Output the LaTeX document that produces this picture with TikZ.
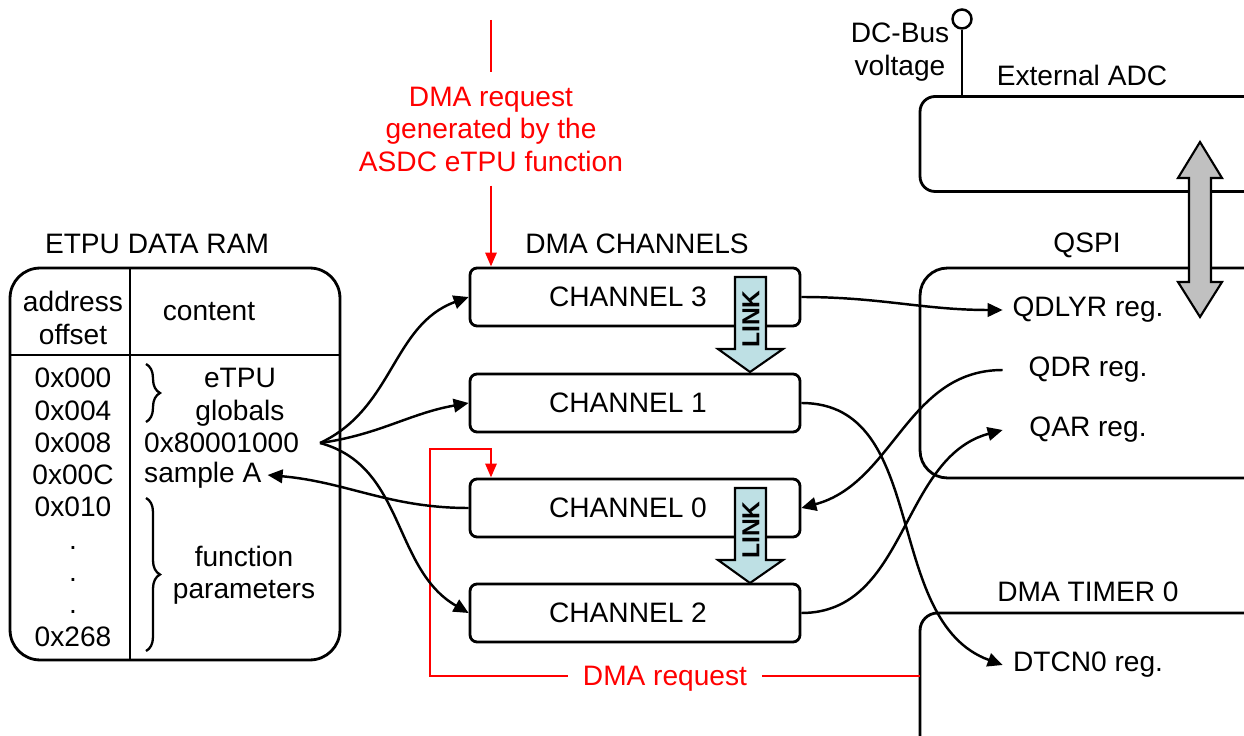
\documentclass[tikz,border=0pt]{standalone}
\usepackage{fontspec}
\setmainfont{Liberation Sans}
\usetikzlibrary{arrows.meta,decorations.pathreplacing}

\definecolor{linkblue}{RGB}{190,224,228}
\definecolor{busgray}{RGB}{192,192,192}

\tikzset{
  box/.style={draw, line width=1.6pt},
  chbox/.style={box, rounded corners=4pt, minimum width=6.6cm, minimum height=1.16cm},
  regtxt/.style={minimum width=3.4cm, inner sep=0pt},
  conn/.style={line width=1.4pt, -{Triangle[length=0.3cm,width=0.27cm]}},
  req/.style={draw=red, line width=1.6pt},
  reqtip/.style={req, -{Triangle[length=0.28cm,width=0.22cm]}},
  brc/.style={decorate, decoration={brace, amplitude=0.28cm}, line width=1.3pt},
}

\begin{document}
\begin{tikzpicture}[x=0.02cm, y=-0.02cm, font=\fontsize{16}{18.5}\selectfont]
\useasboundingbox (0,0) rectangle (1244,736);

% eTPU data RAM
\node (ramttl) at (157,244) {ETPU DATA RAM};
\node[box, rounded corners=0.6cm, minimum width=6.6cm, minimum height=7.84cm] (ram) at (175,464) {};
\draw[line width=1.6pt] (130,268) -- (130,660);
\draw[line width=1.6pt] (10,355) -- (340,355);
\node[align=center] (addr) at (73,318) {address\\offset};
\node (cont) at (209,312) {content};
\foreach \a/\y in {0x000/378,0x004/411,0x008/443,0x00C/475,0x010/507,0x268/637}
  \node (adr\y) at (73,\y) {\a};
\foreach \y in {548,580,612}
  \node (dot\y) at (73,\y) {.};
\draw[brc] (146,364) -- (146,422);
\node[align=center] (glob) at (240,397) {eTPU\\globals};
\node[anchor=west] (ptrval) at (138,443) {0x80001000};
\node[anchor=west] (samp) at (138,475) {sample A};
\draw[brc] (146,498) -- (146,651);
\node[align=center] (fpar) at (244,575) {function\\parameters};

% DMA channels
\node (chttl) at (637,244) {DMA CHANNELS};
\node[chbox] (ch3) at (635,297) {CHANNEL 3\kern0.28cm};
\node[chbox] (ch1) at (635,403) {CHANNEL 1\kern0.28cm};
\node[chbox] (ch0) at (635,508) {CHANNEL 0\kern0.28cm};
\node[chbox] (ch2) at (635,613) {CHANNEL 2\kern0.28cm};
\foreach \t/\n in {277/a,488/b} {
  \filldraw[fill=linkblue, line width=1.2pt] (735,\t) -- (766,\t) -- (766,\t+72) -- (783,\t+72)
    -- (750,\t+95) -- (718,\t+72) -- (735,\t+72) -- cycle;
  \node[rotate=90, font=\fontsize{14}{16}\selectfont\bfseries] (link\n) at (751,\t+42) {LINK};
}

% request from the eTPU
\coordinate (reqtop) at (491,20);
\node[red, align=center, inner ysep=8pt] (reqtxt) at (491,129) {DMA request\\generated by the\\ASDC eTPU function};
\draw[req] (reqtop) -- (reqtxt.north);
\draw[reqtip] (reqtxt.south) -- (ch3.north -| reqtop);

% external ADC
\node[box, rounded corners=0.3cm, minimum width=7.2cm, minimum height=1.9cm] (adc) at (1100,144) {};
\node (adcttl) at (1082,75) {External ADC};
\node[draw, circle, line width=1.4pt, minimum size=0.38cm, inner sep=0pt] (pin) at (962,19) {};
\draw[line width=1.6pt] (pin.south) -- (pin.south |- adc.north);
\node[align=center] (dcbus) at (900,52) {DC-Bus\\voltage};

% QSPI
\node (qspittl) at (1087,245) {QSPI};
\node[box, rounded corners=0.55cm, minimum width=7.2cm, minimum height=4.2cm] (qspi) at (1100,373) {};
\node[regtxt] (qdlyr) at (1088,310) {QDLYR reg.};
\node[regtxt] (qdr) at (1088,370) {QDR reg.};
\node[regtxt] (qar) at (1088,430) {QAR reg.};
\filldraw[fill=busgray, line width=1.2pt] (1200,142) -- (1222,178) -- (1211,178) -- (1211,282)
  -- (1222,282) -- (1200,317) -- (1178,282) -- (1189,282) -- (1189,178) -- (1178,178) -- cycle;

% DMA timer
\node (tmrttl) at (1088,592) {DMA TIMER 0};
\node[box, rounded corners=0.35cm, minimum width=7.2cm, minimum height=3.6cm] (tmr) at (1100,703) {};
\node[regtxt] (dtcn) at (1088,665) {DTCN0 reg.};

% DMA request loop
\coordinate (dreqsrc) at (920,676);
\node[red, inner xsep=0.3cm] (dreq) at (665,679) {DMA request};
\draw[req] (dreqsrc) -- (dreq.east |- dreqsrc);
\draw[reqtip] (dreq.west |- dreqsrc) -| (430,449) -| (ch0.north -| reqtop);

% data paths
\coordinate (ptr) at (320,443);
\draw[conn] (ptr) to[out=25,in=200] (ch3.west);
\draw[conn] (ptr) to[out=8,in=190] (ch1.west);
\draw[conn] (ptr) to[out=-15,in=150] (ch2.west);
\draw[conn] (ch0.west) to[out=180,in=-5] (samp.east);
\draw[conn] (ch3.east) to[out=0,in=180] (qdlyr.west);
\draw[conn] (qdr.west) to[out=180,in=15] (ch0.east);
\draw[conn] (ch2.east) to[out=0,in=195] (qar.west);
\draw[conn] (ch1.east) to[out=0,in=160] (dtcn.west);
\end{tikzpicture}
\end{document}
